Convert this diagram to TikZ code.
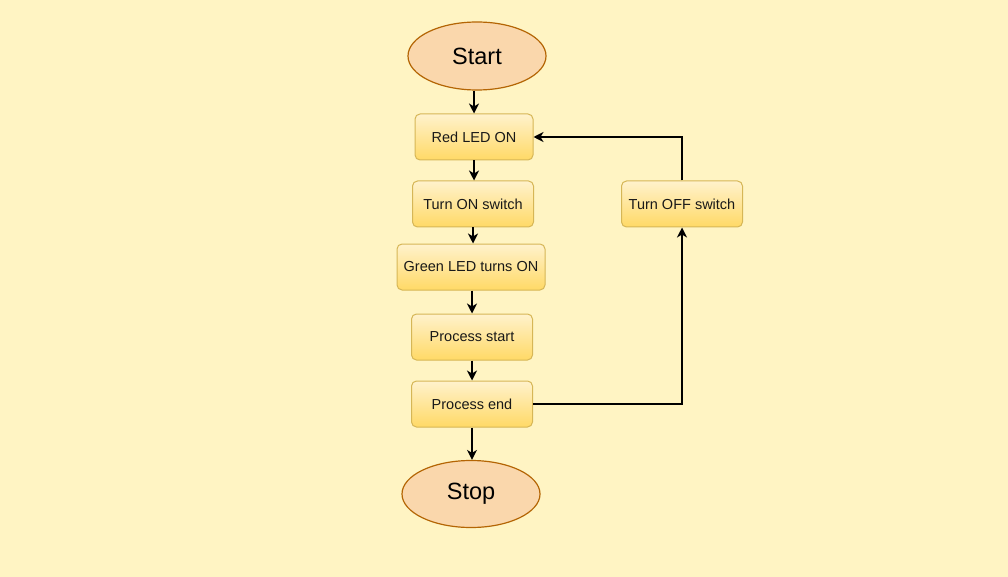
\documentclass[tikz,border=0pt]{standalone}
\usepackage{fontspec}
\setmainfont{Liberation Sans}
\usetikzlibrary{shapes.geometric,arrows.meta}
\definecolor{bg}{HTML}{FFF4C3}
\definecolor{boxtop}{HTML}{FFF2CC}
\definecolor{boxbot}{HTML}{FFD966}
\definecolor{boxline}{HTML}{D6B656}
\definecolor{ellfill}{HTML}{FAD7AC}
\definecolor{ellline}{HTML}{B46504}
\tikzset{
  stepbox/.style={draw=boxline, line width=1pt, rounded corners=5pt, top color=boxtop, bottom color=boxbot,
    minimum height=46pt, inner sep=0pt, font=\fontsize{14.5}{16}\selectfont, text=black!90},
  term/.style={ellipse, draw=ellline, line width=1.2pt, fill=ellfill, minimum width=138pt, minimum height=68pt,
    inner sep=0pt, font=\fontsize{23.5}{26}\selectfont},
  conn/.style={draw=black, line width=1.4pt, -{Stealth[length=10pt,width=10pt,inset=3pt]}}
}
\begin{document}
\begin{tikzpicture}[x=1pt,y=-1pt]
\fill[bg] (0,0) rectangle (1008,577);
\useasboundingbox (0,0) rectangle (1008,577);
\node[term] (start) at (477,56) {Start};
\node[stepbox, minimum width=118pt] (red) at (474,137) {Red LED ON};
\node[stepbox, minimum width=121pt] (on) at (473,204) {Turn ON switch};
\node[stepbox, minimum width=148pt] (green) at (471,267) {Green LED turns ON};
\node[stepbox, minimum width=121pt] (pstart) at (472,337) {Process start};
\node[stepbox, minimum width=121pt] (pend) at (472,404) {Process end};
\node[term, minimum height=67pt] (stop) at (471,494) {\raisebox{-2pt}{Stop}};
\node[stepbox, minimum width=121pt] (off) at (682,204) {Turn OFF switch};
\draw[conn] (start.south -| red.north) -- (red.north);
\draw[conn] (red.south) -- (red.south |- on.north);
\draw[conn] (on.south) -- (on.south |- green.north);
\draw[conn] (pstart.north |- green.south) -- (pstart.north);
\draw[conn] (pstart.south) -- (pend.north);
\draw[conn] (pend.south) -- (pend.south |- stop.north);
\draw[conn] (pend.east) -| (off.south);
\draw[conn] (off.north) |- (red.east);
\end{tikzpicture}
\end{document}
